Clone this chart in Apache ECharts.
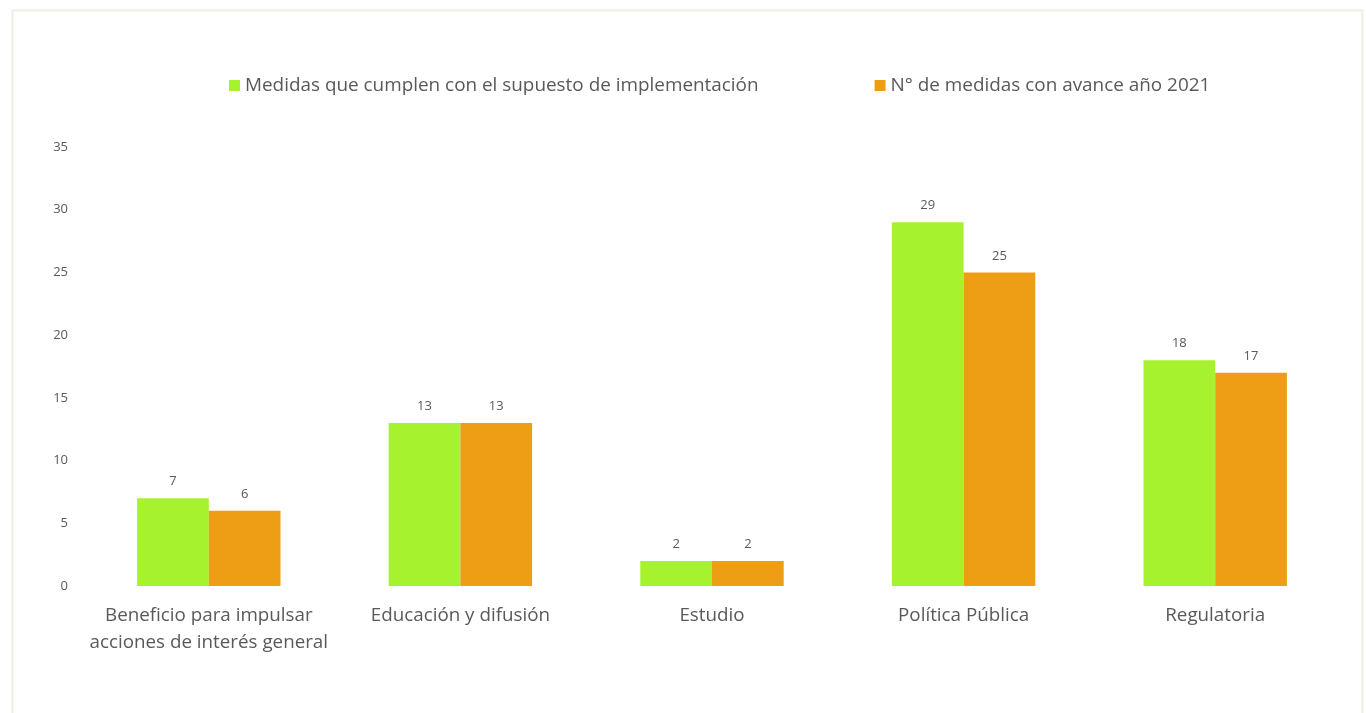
<!DOCTYPE html>
<html>
<head>
<meta charset="utf-8">
<script src="https://cdn.jsdelivr.net/npm/echarts@6/dist/echarts.min.js"></script>
<style>
html,body{margin:0;padding:0;background:#fff;}
#c{width:1366px;height:713px;}
</style>
</head>
<body>
<div id="c"></div>
<script>
const categories = ['Beneficio para impulsar\nacciones de interés general', 'Educación y difusión', 'Estudio', 'Política Pública', 'Regulatoria'];
const seriesNames = ['Medidas que cumplen con el supuesto de implementación', 'N° de medidas con avance año 2021'];
const cumplen = [7, 13, 2, 29, 18];
const avance = [6, 13, 2, 25, 17];
const yTicks = [0, 5, 10, 15, 20, 25, 30, 35];

const chart = echarts.init(document.getElementById('c'), null, {renderer: 'canvas'});
const font = 'Open Sans, sans-serif';
const labelStyle = {show: true, position: 'top', distance: 10, color: '#595959', fontSize: 13, fontFamily: font};
chart.setOption({
  animation: false,
  graphic: [{
    type: 'rect', left: 10, top: 8,
    shape: {width: 1350, height: 720},
    style: {fill: 'none', stroke: '#eeeee2', lineWidth: 2}
  }],
  legend: {
    top: 71, left: 224, itemGap: 116,
    itemWidth: 11, itemHeight: 11, icon: 'rect',
    textStyle: {color: '#595959', fontSize: 18.9, fontFamily: font},
    data: seriesNames
  },
  grid: {left: 83, right: 25, top: 147, bottom: 127, containLabel: false},
  xAxis: {
    type: 'category', data: categories,
    axisLine: {show: false}, axisTick: {show: false},
    axisLabel: {color: '#595959', fontSize: 18.8, fontFamily: font, margin: 16, lineHeight: 27, interval: 0}
  },
  yAxis: {
    type: 'value', min: yTicks[0], max: yTicks[yTicks.length - 1], interval: 5,
    axisLine: {show: false}, axisTick: {show: false}, splitLine: {show: false},
    axisLabel: {color: '#595959', fontSize: 13, fontFamily: font, margin: 15}
  },
  series: [
    {name: seriesNames[0], type: 'bar', data: cumplen, barGap: '0%', barCategoryGap: '43%',
     itemStyle: {color: '#a6f22e'}, label: labelStyle},
    {name: seriesNames[1], type: 'bar', data: avance,
     itemStyle: {color: '#ee9e14'}, label: labelStyle}
  ]
});
</script>
</body>
</html>
